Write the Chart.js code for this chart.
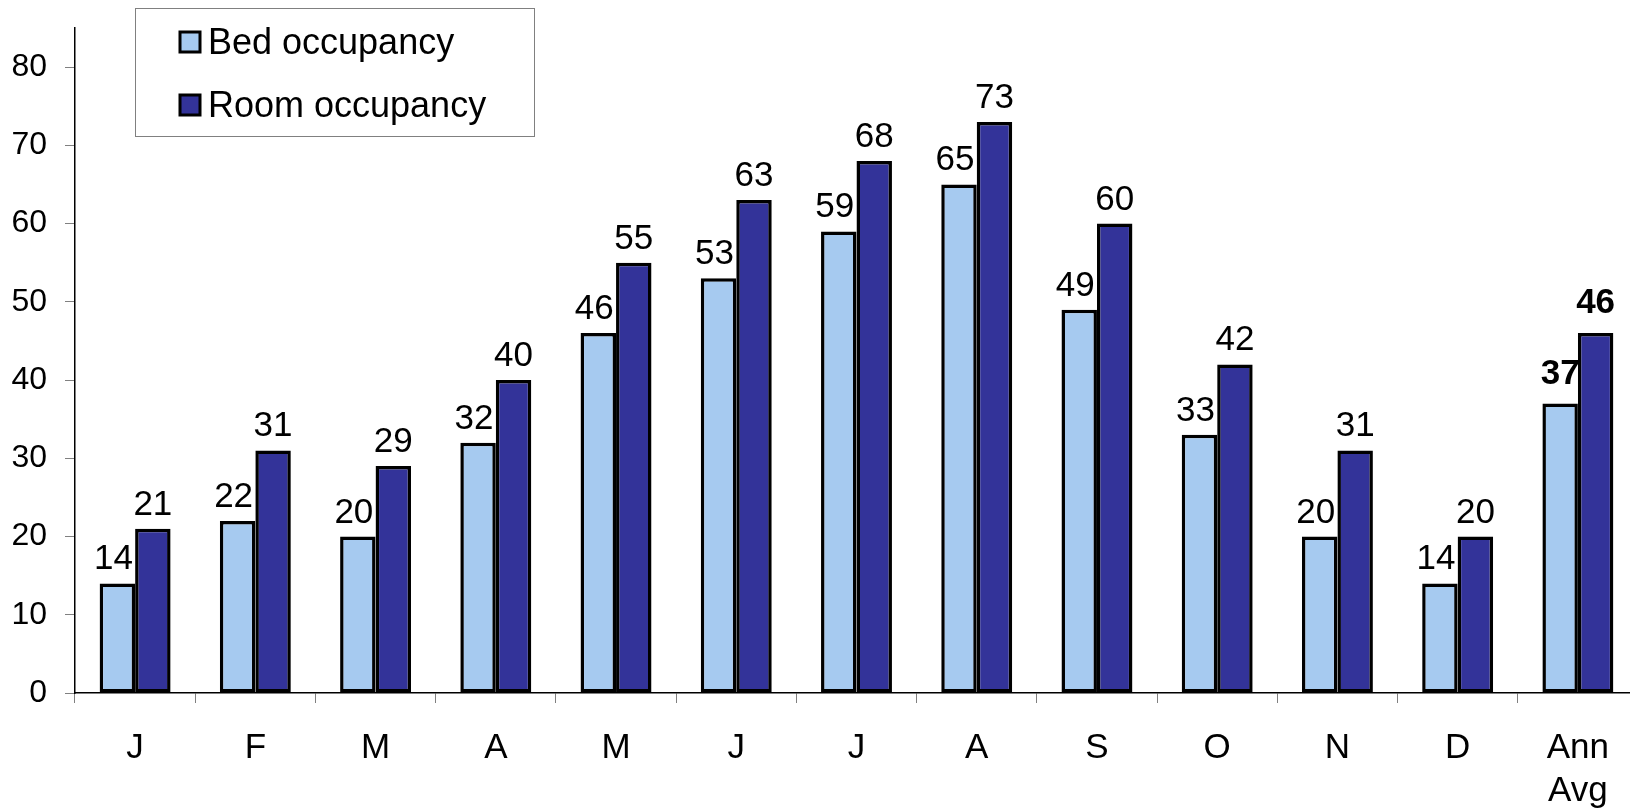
<!DOCTYPE html>
<html>
<head>
<meta charset="utf-8">
<script src="https://cdn.jsdelivr.net/npm/chart.js@4/dist/chart.umd.min.js"></script>
<style>
  html, body { margin: 0; padding: 0; background: #fff; overflow: hidden; }
  #wrap { position: relative; width: 1630px; height: 812px; overflow: hidden; }
  canvas { display: block; }
</style>
</head>
<body>
<div id="wrap">
  <canvas id="occ" width="1638" height="812"></canvas>
</div>
<script>
const months = ['J', 'F', 'M', 'A', 'M', 'J', 'J', 'A', 'S', 'O', 'N', 'D', ['Ann', 'Avg']];
const bedOccupancy = [14, 22, 20, 32, 46, 53, 59, 65, 49, 33, 20, 14, 37];
const roomOccupancy = [21, 31, 29, 40, 55, 63, 68, 73, 60, 42, 31, 20, 46];
const yTicks = [0, 10, 20, 30, 40, 50, 60, 70, 80];

const FONT = '"Liberation Sans", Arial, sans-serif';

// value labels above each bar, last group (annual average) in bold
const barLabels = {
  id: 'barLabels',
  afterDatasetsDraw(chart) {
    const ctx = chart.ctx;
    ctx.save();
    ctx.fillStyle = '#000';
    ctx.textAlign = 'center';
    ctx.textBaseline = 'alphabetic';
    chart.data.datasets.forEach((ds, di) => {
      const meta = chart.getDatasetMeta(di);
      meta.data.forEach((bar, i) => {
        const last = i === ds.data.length - 1;
        ctx.font = (last ? 'bold ' : '') + '35px ' + FONT;
        const shift = (di === 0 && !last) ? -4 : 0;
        ctx.fillText(String(ds.data[i]), bar.x + shift, bar.y - (last ? 20 : 14));
      });
    });
    ctx.restore();
  }
};

// boxed legend floating over the top-left of the plot
const boxLegend = {
  id: 'boxLegend',
  afterDraw(chart) {
    const ctx = chart.ctx;
    ctx.save();
    ctx.fillStyle = '#fff';
    ctx.fillRect(135, 8, 399, 128);
    ctx.strokeStyle = '#808080';
    ctx.lineWidth = 1;
    ctx.strokeRect(135.5, 8.5, 399, 128);
    ctx.font = '36px ' + FONT;
    ctx.textBaseline = 'alphabetic';
    ctx.textAlign = 'left';
    chart.data.datasets.forEach((ds, i) => {
      const y = 30 + i * 63;
      ctx.fillStyle = ds.backgroundColor;
      ctx.fillRect(180, y + 2, 20, 20);
      ctx.strokeStyle = '#000';
      ctx.lineWidth = 3;
      ctx.strokeRect(180, y + 2, 20, 20);
      ctx.fillStyle = '#000';
      ctx.fillText(ds.label, 208, y + 24);
    });
    ctx.restore();
  }
};

new Chart(document.getElementById('occ'), {
  type: 'bar',
  data: {
    labels: months,
    datasets: [
      {
        label: 'Bed occupancy',
        data: bedOccupancy,
        backgroundColor: '#A6CAF0',
        borderColor: '#000',
        borderWidth: 3.5,
        borderSkipped: false
      },
      {
        label: 'Room occupancy',
        data: roomOccupancy,
        backgroundColor: '#333399',
        borderColor: '#000',
        borderWidth: 3.5,
        borderSkipped: false
      }
    ]
  },
  options: {
    responsive: false,
    animation: false,
    devicePixelRatio: 1,
    categoryPercentage: 0.59,
    barPercentage: 1,
    layout: { padding: { top: 28, left: 0, right: 0, bottom: 0 } },
    plugins: {
      legend: { display: false },
      tooltip: { enabled: false }
    },
    scales: {
      x: {
        afterFit: (s) => { s.height = 119; s.paddingLeft = 0; s.paddingRight = 0; },
        grid: {
          drawOnChartArea: false,
          tickLength: 10,
          color: '#808080',
          offset: true
        },
        border: { color: '#000', width: 1.5 },
        ticks: {
          color: '#000',
          padding: 23,
          maxRotation: 0,
          autoSkip: false,
          font: { family: FONT, size: 35, lineHeight: 1.25 }
        }
      },
      y: {
        min: 0,
        max: 85,
        afterFit: (s) => { s.width = 75; s.paddingTop = 0; s.paddingBottom = 0; },
        afterBuildTicks: (s) => { s.ticks = yTicks.map(v => ({ value: v })); },
        grid: {
          drawOnChartArea: false,
          tickLength: 10,
          color: '#808080'
        },
        border: { color: '#000', width: 1.5 },
        ticks: {
          color: '#000',
          padding: 18,
          font: { family: FONT, size: 32 }
        }
      }
    }
  },
  plugins: [barLabels, boxLegend]
});
</script>
</body>
</html>
